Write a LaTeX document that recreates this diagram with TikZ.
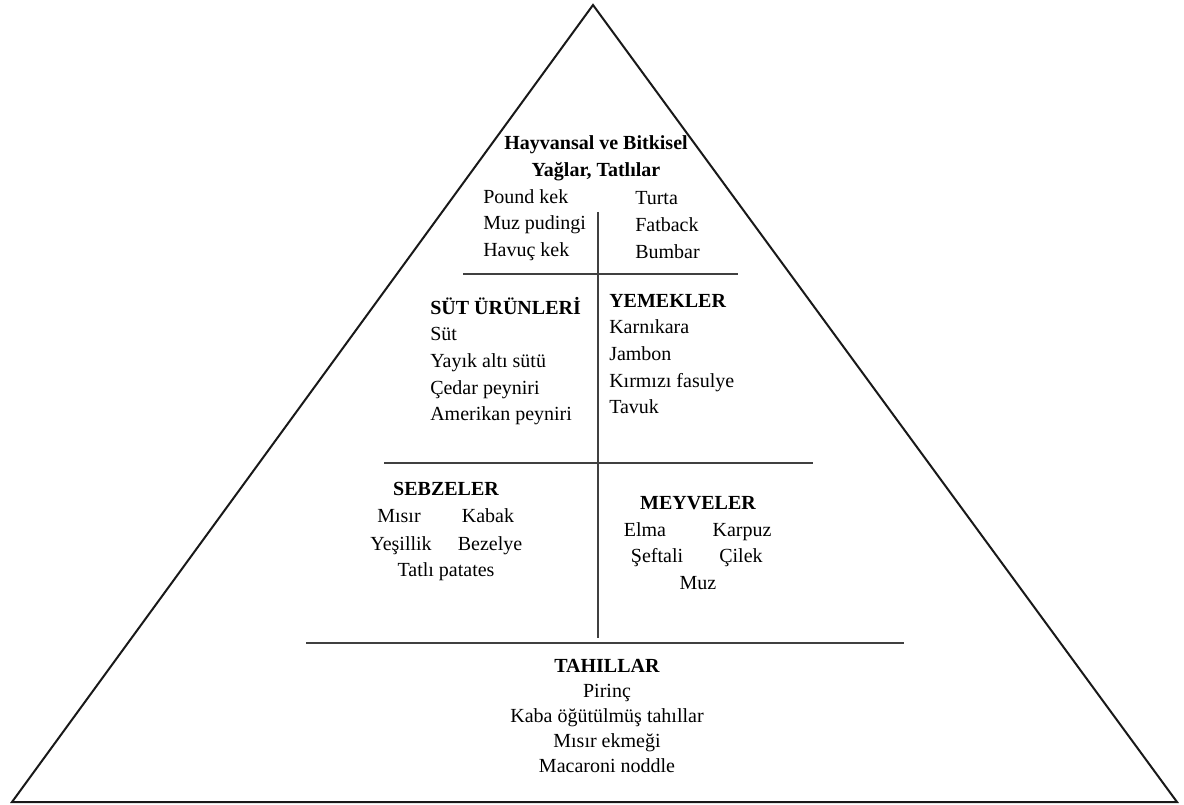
\documentclass[tikz,border=0pt]{standalone}
\usepackage{fontspec}
\setmainfont{LiberationSerif}[
    Extension=.ttf,
    UprightFont=*-Regular,
    BoldFont=*-Bold,
    ItalicFont=*-Italic,
    BoldItalicFont=*-BoldItalic]
\usetikzlibrary{positioning}

\begin{document}
\begin{tikzpicture}[
    x=0.75pt, y=-0.75pt,
    edge/.style={draw=black!90, line width=1.5pt, line join=miter},
    rule/.style={draw=black!75, line width=1.1pt},
    txt/.style={font=\fontsize{15}{20}\selectfont, inner sep=0pt},
    word/.style={txt, text height=10.5pt, text depth=3pt},
    head/.style={word, font=\fontsize{15}{20}\selectfont\bfseries},
    col/.style={txt, align=left, anchor=west}
]
\useasboundingbox (0,0) rectangle (1184,805);

% pyramid outline and level rules
\coordinate (apex) at (593,5);
\coordinate (baseL) at (12,802);
\coordinate (baseR) at (1177,802);
\draw[edge] (apex) -- (baseR) -- (baseL) -- cycle;
\draw[rule] (463,274) -- (738,274);
\draw[rule] (384,463) -- (813,463);
\draw[rule] (306,643) -- (904,643);
\draw[rule] (598,212) -- (598,638);

% top level
\node[txt, align=center, font=\fontsize{15}{20}\selectfont\bfseries] (fats) at (596,158) {Hayvansal ve Bitkisel\\Yağlar, Tatlılar};
\node[col] (sweets) at (483,225) {Pound kek\\Muz pudingi\\Havuç kek};
\node[col] (fatty) at (635,225) {Turta\\Fatback\\Bumbar};

% second level
\node[col] (dairy) at (430,361) {\textbf{SÜT ÜRÜNLERİ}\\Süt\\Yayık altı sütü\\Çedar peyniri\\Amerikan peyniri};
\node[col] (dishes) at (609,354) {\textbf{YEMEKLER}\\Karnıkara\\Jambon\\Kırmızı fasulye\\Tavuk};

% third level
\node[head] (veg) at (446,490) {SEBZELER};
\node[word] (corn) at (399,517) {Mısır};
\node[word] (squash) at (488,517) {Kabak};
\node[word] (greens) at (401,545) {Yeşillik};
\node[word] (peas) at (490,545) {Bezelye};
\node[word] (yam) at (446,571) {Tatlı patates};

\node[head] (fruit) at (698,504) {MEYVELER};
\node[word] (apple) at (645,531) {Elma};
\node[word] (melon) at (742,531) {Karpuz};
\node[word] (peach) at (657,557) {Şeftali};
\node[word] (berry) at (741,557) {Çilek};
\node[word] (banana) at (698,584) {Muz};

% base level
\node[txt, align=center, font=\fontsize{15}{18.7}\selectfont] (grains) at (607,716) {\textbf{TAHILLAR}\\Pirinç\\Kaba öğütülmüş tahıllar\\Mısır ekmeği\\Macaroni noddle};
\end{tikzpicture}
\end{document}
